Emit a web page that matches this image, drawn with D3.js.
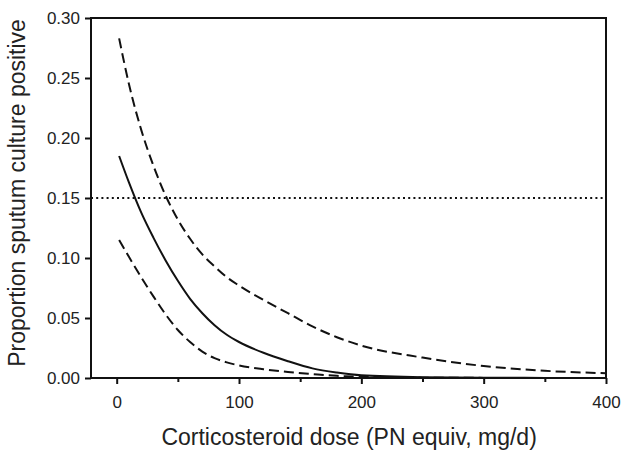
<!DOCTYPE html>
<html>
<head>
<meta charset="utf-8">
<script src="https://cdn.jsdelivr.net/npm/d3@7"></script>
<style>
  body { margin: 0; background: #fff; }
  text { font-family: "Liberation Sans", Arial, sans-serif; fill: #222; }
</style>
</head>
<body>
<svg width="622" height="450"></svg>
<script>
const svgWidth = 622;
const svgHeight = 450;

// dose (mg/d) and fitted proportions
const doses = [2, 10, 20, 30, 40, 50, 60, 70, 80, 90, 100, 120, 140, 160, 180, 200, 250, 300, 350, 400];
const estimate = [0.185, 0.163, 0.138, 0.117, 0.098, 0.081, 0.066, 0.054, 0.044, 0.036, 0.030, 0.021, 0.014, 0.008, 0.0045, 0.0022, 0.0006, 0.0002, 0.0001, 0.0];
const upperCI = [0.283, 0.245, 0.207, 0.177, 0.152, 0.132, 0.116, 0.103, 0.093, 0.084, 0.077, 0.065, 0.054, 0.043, 0.034, 0.027, 0.017, 0.010, 0.006, 0.004];
const lowerCI = [0.115, 0.101, 0.084, 0.068, 0.053, 0.040, 0.030, 0.022, 0.0165, 0.013, 0.0105, 0.0073, 0.005, 0.0033, 0.0018, 0.001, 0.0003, 0.0001, 0.0, 0.0];
const threshold = 0.15;

const xTicks = [0, 100, 200, 300, 400];
const xMinorTicks = [50, 150, 250, 350];
const yTicks = [0, 0.05, 0.10, 0.15, 0.20, 0.25, 0.30];

const xLabel = "Corticosteroid dose (PN equiv, mg/d)";
const yLabel = "Proportion sputum culture positive";

const margin = { left: 91, right: 16, top: 18, bottom: 72 };
const chartWidth = svgWidth - margin.left - margin.right;
const chartHeight = svgHeight - margin.top - margin.bottom;

const svg = d3.select("svg");

const chartGroup = svg
  .append("g")
  .attr("transform", `translate(${margin.left}, ${margin.top})`);

const xScaler = d3.scaleLinear().domain([-21, 400]).range([0, chartWidth]);
const yScaler = d3.scaleLinear().domain([0, 0.3]).range([chartHeight, 0]);

// minor x ticks
const xMinorGroup = chartGroup
  .append("g")
  .attr("transform", `translate(0, ${chartHeight})`)
  .call(d3.axisBottom(xScaler).tickValues(xMinorTicks).tickSize(4).tickFormat(""));

const xAxisGroup = chartGroup
  .append("g")
  .attr("transform", `translate(0, ${chartHeight})`)
  .call(
    d3.axisBottom(xScaler)
      .tickValues(xTicks)
      .tickSize(6)
      .tickSizeOuter(0)
      .tickPadding(12)
      .tickFormat(d3.format("d"))
  );

const yAxisGroup = chartGroup
  .append("g")
  .call(
    d3.axisLeft(yScaler)
      .tickValues(yTicks)
      .tickSize(6)
      .tickSizeOuter(0)
      .tickPadding(5)
      .tickFormat(d3.format(".2f"))
  );

[xMinorGroup, xAxisGroup, yAxisGroup].forEach((g) => {
  g.select(".domain").remove();
  g.selectAll(".tick line").attr("stroke", "#111").attr("stroke-width", 2);
  g.selectAll(".tick text")
    .style("font-size", "17px")
    .style("font-family", "'Liberation Sans', Arial, sans-serif")
    .attr("fill", "#222");
});

// frame
chartGroup
  .append("rect")
  .attr("x", 0)
  .attr("y", 0)
  .attr("width", chartWidth)
  .attr("height", chartHeight)
  .attr("fill", "none")
  .attr("stroke", "#111")
  .attr("stroke-width", 2);

svg
  .append("defs")
  .append("clipPath")
  .attr("id", "plotClip")
  .append("rect")
  .attr("x", 0)
  .attr("y", 0)
  .attr("width", chartWidth)
  .attr("height", chartHeight);

const contentGroup = chartGroup.append("g").attr("clip-path", "url(#plotClip)");

// reference line
contentGroup
  .append("line")
  .attr("x1", 0)
  .attr("x2", chartWidth)
  .attr("y1", yScaler(threshold))
  .attr("y2", yScaler(threshold))
  .attr("stroke", "#111")
  .attr("stroke-width", 2)
  .attr("stroke-dasharray", "2,3.2");

const series = [
  { values: upperCI, dash: "10,5" },
  { values: estimate, dash: null },
  { values: lowerCI, dash: "10,5" },
];

const line = d3
  .line()
  .x((d) => xScaler(d[0]))
  .y((d) => yScaler(d[1]))
  .curve(d3.curveMonotoneX);

contentGroup
  .selectAll("path.curve")
  .data(series)
  .join("path")
  .attr("class", "curve")
  .attr("d", (s) => line(doses.map((x, i) => [x, s.values[i]])))
  .attr("fill", "none")
  .attr("stroke", "#111")
  .attr("stroke-width", 2)
  .attr("stroke-dasharray", (s) => s.dash);

// axis titles
svg
  .append("text")
  .attr("x", margin.left + xScaler(190))
  .attr("y", 445)
  .attr("text-anchor", "middle")
  .style("font-size", "23px")
  .text(xLabel);

svg
  .append("text")
  .attr("transform", `translate(25, 193) rotate(-90)`)
  .attr("text-anchor", "middle")
  .style("font-size", "23px")
  .text(yLabel);
</script>
</body>
</html>
